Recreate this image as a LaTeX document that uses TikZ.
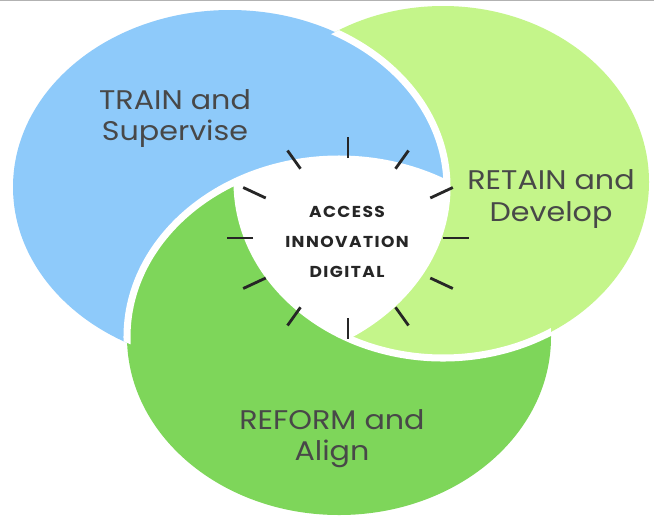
\documentclass[tikz,border=0pt]{standalone}
\usepackage{fontspec}
\setmainfont{Poppins}
\newfontfamily\labelfont{Poppins}[FakeStretch=1.12]
\newfontfamily\corefont{Poppins}[FakeStretch=1.08,LetterSpace=9]
\usetikzlibrary{positioning}
\definecolor{skyblue}{RGB}{142,202,250}
\definecolor{limegreen}{RGB}{196,245,138}
\definecolor{leafgreen}{RGB}{126,214,90}
\definecolor{labelgray}{RGB}{72,72,72}
\tikzset{x=0.03cm,y=-0.03cm,
  blueshape/.style={insert path={(230,187) ellipse [x radius=217,y radius=177]}},
  limeshape/.style={insert path={(443,182) ellipse [x radius=206,y radius=176]}},
  leafshape/.style={insert path={(339,337) ellipse [x radius=212,y radius=178]}},
  page/.style={insert path={(0,0) rectangle (654,518)}},
  gap/.style={draw=white,line width=6pt},
  ray/.style={draw=black!85,line width=2.4pt},
  lbl/.style={text=labelgray,font=\labelfont\fontsize{23}{26.5}\selectfont,align=center},
  core/.style={text=black!85,font=\corefont\bfseries\fontsize{13.5}{25.6}\selectfont,align=center}}

\begin{document}
\begin{tikzpicture}
  \fill[white,page];
  \useasboundingbox[page];
  \coordinate (tl) at (0,0.7);
  \coordinate (tr) at (654,0.7);
  \draw[black!30,line width=1.2pt] (tl) -- (tr);

  % each colour sits over the next one round the ring
  \begin{scope}[even odd rule]
    \clip[page,leafshape];
    \fill[skyblue,blueshape];
  \end{scope}
  \begin{scope}[even odd rule]
    \clip[page,blueshape];
    \fill[limegreen,limeshape];
  \end{scope}
  \begin{scope}[even odd rule]
    \clip[page,limeshape];
    \fill[leafgreen,leafshape];
  \end{scope}
  \begin{scope}
    \clip[blueshape];
    \draw[gap,leafshape];
  \end{scope}
  \begin{scope}
    \clip[limeshape];
    \draw[gap,blueshape];
  \end{scope}
  \begin{scope}
    \clip[leafshape];
    \draw[gap,limeshape];
  \end{scope}

  \node[lbl] (train) at (175,119) {TRAIN and\\Supervise};
  \node[lbl] (retain) at (551,199) {RETAIN and\\Develop};
  \node[lbl] (reform) at (332,439) {REFORM and\\Align};

  \node[core] (hub) at (347,242) {ACCESS\\INNOVATION\\DIGITAL};
  \foreach \a in {0,30,...,330}
    \draw[ray] (348,238) ++(\a:95 and 80) -- ++(\a:26 and 21);
\end{tikzpicture}
\end{document}
